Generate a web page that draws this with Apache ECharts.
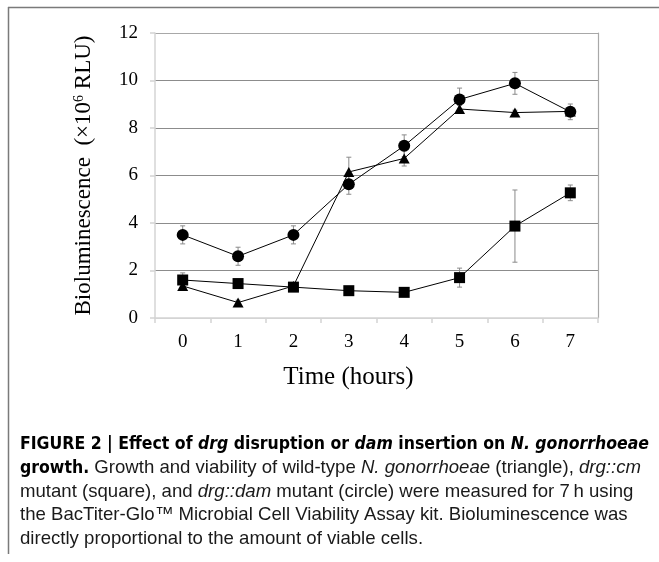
<!DOCTYPE html>
<html>
<head>
<meta charset="utf-8">
<script src="https://cdn.jsdelivr.net/npm/echarts@6/dist/echarts.min.js"></script>
<style>
html,body{margin:0;padding:0;background:#fff;}
#chart{width:659px;height:562px;}
</style>
</head>
<body>
<div id="chart"></div>
<script>
const hours = ['0','1','2','3','4','5','6','7'];
const yTicks = [0, 2, 4, 6, 8, 10, 12];
// wild-type (triangle)
const wildType    = [1.35, 0.65, 1.35, 6.15, 6.72, 8.8, 8.65, 8.7];
const wildTypeErr = [0.10, 0.10, 0.10, 0.62, 0.32, 0.15, 0.10, 0.10];
// drg::cm (square)
const drgCm    = [1.6, 1.45, 1.3, 1.15, 1.08, 1.7, 3.87, 5.27];
const drgCmErr = [0.30, 0.10, 0.10, 0.05, 0.05, 0.40, 1.52, 0.33];
// drg::dam (circle)
const drgDam    = [3.5, 2.6, 3.5, 5.63, 7.25, 9.2, 9.88, 8.68];
const drgDamErr = [0.38, 0.38, 0.38, 0.42, 0.46, 0.48, 0.46, 0.33];

const caption = [
  '{b|FIGURE 2 | Effect of }{bi|drg}{b| disruption or }{bi|dam}{b| insertion on }{bi|N. gonorrhoeae}',
  '{b|growth.}{r| Growth and viability of wild-type }{i|N. gonorrhoeae}{r| (triangle), }{i|drg::cm}',
  '{r|mutant (square), and }{i|drg::dam}{r| mutant (circle) were measured for 7\u2009h using}',
  '{r|the BacTiter-Glo\u2122 Microbial Cell Viability Assay kit. Bioluminescence was}',
  '{r|directly proportional to the amount of viable cells.}'
];

function errData(vals, errs) {
  return vals.map((v, i) => [i, v - errs[i], v + errs[i]]);
}
function errSeries(vals, errs) {
  return {
    type: 'custom',
    z: 1,
    silent: true,
    data: errData(vals, errs),
    renderItem: function (params, api) {
      const lo = api.coord([api.value(0), api.value(1)]);
      const hi = api.coord([api.value(0), api.value(2)]);
      const c = 2.5;
      const st = { stroke: '#8a8a8a', lineWidth: 1 };
      return {
        type: 'group',
        children: [
          { type: 'line', shape: { x1: lo[0], y1: lo[1], x2: hi[0], y2: hi[1] }, style: st },
          { type: 'line', shape: { x1: lo[0] - c, y1: lo[1], x2: lo[0] + c, y2: lo[1] }, style: st },
          { type: 'line', shape: { x1: hi[0] - c, y1: hi[1], x2: hi[0] + c, y2: hi[1] }, style: st }
        ]
      };
    }
  };
}
function lineSeries(name, vals, symbol, size) {
  return {
    name: name,
    type: 'line',
    z: 3,
    data: vals,
    symbol: symbol,
    symbolSize: size,
    showAllSymbol: true,
    lineStyle: { color: '#000', width: 1 },
    itemStyle: { color: '#000', borderWidth: 0 },
    animation: false
  };
}

const serif = "'Liberation Serif', 'Times New Roman', serif";
const capFont = "'Liberation Sans', Arial, sans-serif";
const capNarrow = "'DejaVu Sans Condensed', 'Liberation Sans', sans-serif";
const boldSize = 17.5;
const capSize = 18.6;
const rich = {
  b:  { fontFamily: capNarrow, fontWeight: 'bold', fontSize: boldSize, fill: '#000' },
  bi: { fontFamily: capNarrow, fontWeight: 'bold', fontStyle: 'italic', fontSize: boldSize, fill: '#000' },
  r:  { fontFamily: capFont, fontSize: capSize, fill: '#1a1a1a' },
  i:  { fontFamily: capFont, fontStyle: 'italic', fontSize: capSize, fill: '#1a1a1a' }
};
const capTop = 446;
const capStep = 23.5;
const graphics = [
  { type: 'line', shape: { x1: 8, y1: 7.5, x2: 659, y2: 7.5 }, style: { stroke: '#7a7a7a', lineWidth: 1.5 } },
  { type: 'line', shape: { x1: 8.5, y1: 7, x2: 8.5, y2: 554 }, style: { stroke: '#7a7a7a', lineWidth: 1.5 } }
];
caption.forEach((t, k) => {
  graphics.push({
    type: 'text', left: 20, top: capTop + k * capStep - 11,
    style: { text: t, rich: rich, fontSize: capSize, fontFamily: capFont }
  });
});

const chart = echarts.init(document.getElementById('chart'));
chart.setOption({
  animation: false,
  backgroundColor: '#fff',
  grid: { left: 155, right: 61, top: 33, bottom: 244 },
  xAxis: {
    type: 'category',
    data: hours,
    boundaryGap: true,
    name: 'Time (hours)',
    nameLocation: 'middle',
    nameGap: 47,
    nameTextStyle: { fontFamily: serif, fontSize: 25, color: '#000', padding: [0, 56, 0, 0] },
    axisLine: { lineStyle: { color: '#d4d4d4', width: 1.5 } },
    axisTick: { show: true, length: 5, alignWithLabel: false, lineStyle: { color: '#d4d4d4', width: 1.5 } },
    axisLabel: { fontFamily: serif, fontSize: 19, color: '#000', margin: 15 },
    splitLine: { show: false }
  },
  yAxis: [{
    type: 'value',
    min: 0, max: 12, interval: 2,
    name: '{a|Bioluminescence  (\u00d710}{s|6}{a| RLU)}',
    nameLocation: 'middle',
    nameGap: 60,
    nameTextStyle: {
      fontFamily: serif, fontSize: 23, color: '#000',
      rich: {
        a: { fontFamily: serif, fontSize: 23, color: '#000' },
        s: { fontFamily: serif, fontSize: 14, color: '#000', verticalAlign: 'top', padding: [0, 0, 9, 0] }
      }
    },
    axisLine: { show: true, lineStyle: { color: '#d4d4d4', width: 1.5 } },
    axisTick: { show: true, length: 5, lineStyle: { color: '#d4d4d4', width: 1.5 } },
    axisLabel: { fontFamily: serif, fontSize: 19, color: '#000', margin: 17,
      formatter: v => yTicks.indexOf(v) >= 0 ? String(v) : '' },
    splitLine: { show: true, lineStyle: { color: ['#d4d4d4', '#8c8c8c', '#8c8c8c', '#8c8c8c', '#8c8c8c', '#8c8c8c', '#a8a8a8'], width: 1.2 } }
  }, {
    type: 'value',
    position: 'right',
    min: 0, max: 12, interval: 2,
    axisLine: { show: true, lineStyle: { color: '#a8a8a8', width: 1.2 } },
    axisTick: { show: false },
    axisLabel: { show: false },
    splitLine: { show: false }
  }],
  series: [
    errSeries(wildType, wildTypeErr),
    errSeries(drgCm, drgCmErr),
    errSeries(drgDam, drgDamErr),
    lineSeries('wild-type', wildType, 'triangle', [11, 10]),
    lineSeries('drg::cm', drgCm, 'rect', 11),
    lineSeries('drg::dam', drgDam, 'circle', 12)
  ],
  graphic: graphics
});
</script>
</body>
</html>
